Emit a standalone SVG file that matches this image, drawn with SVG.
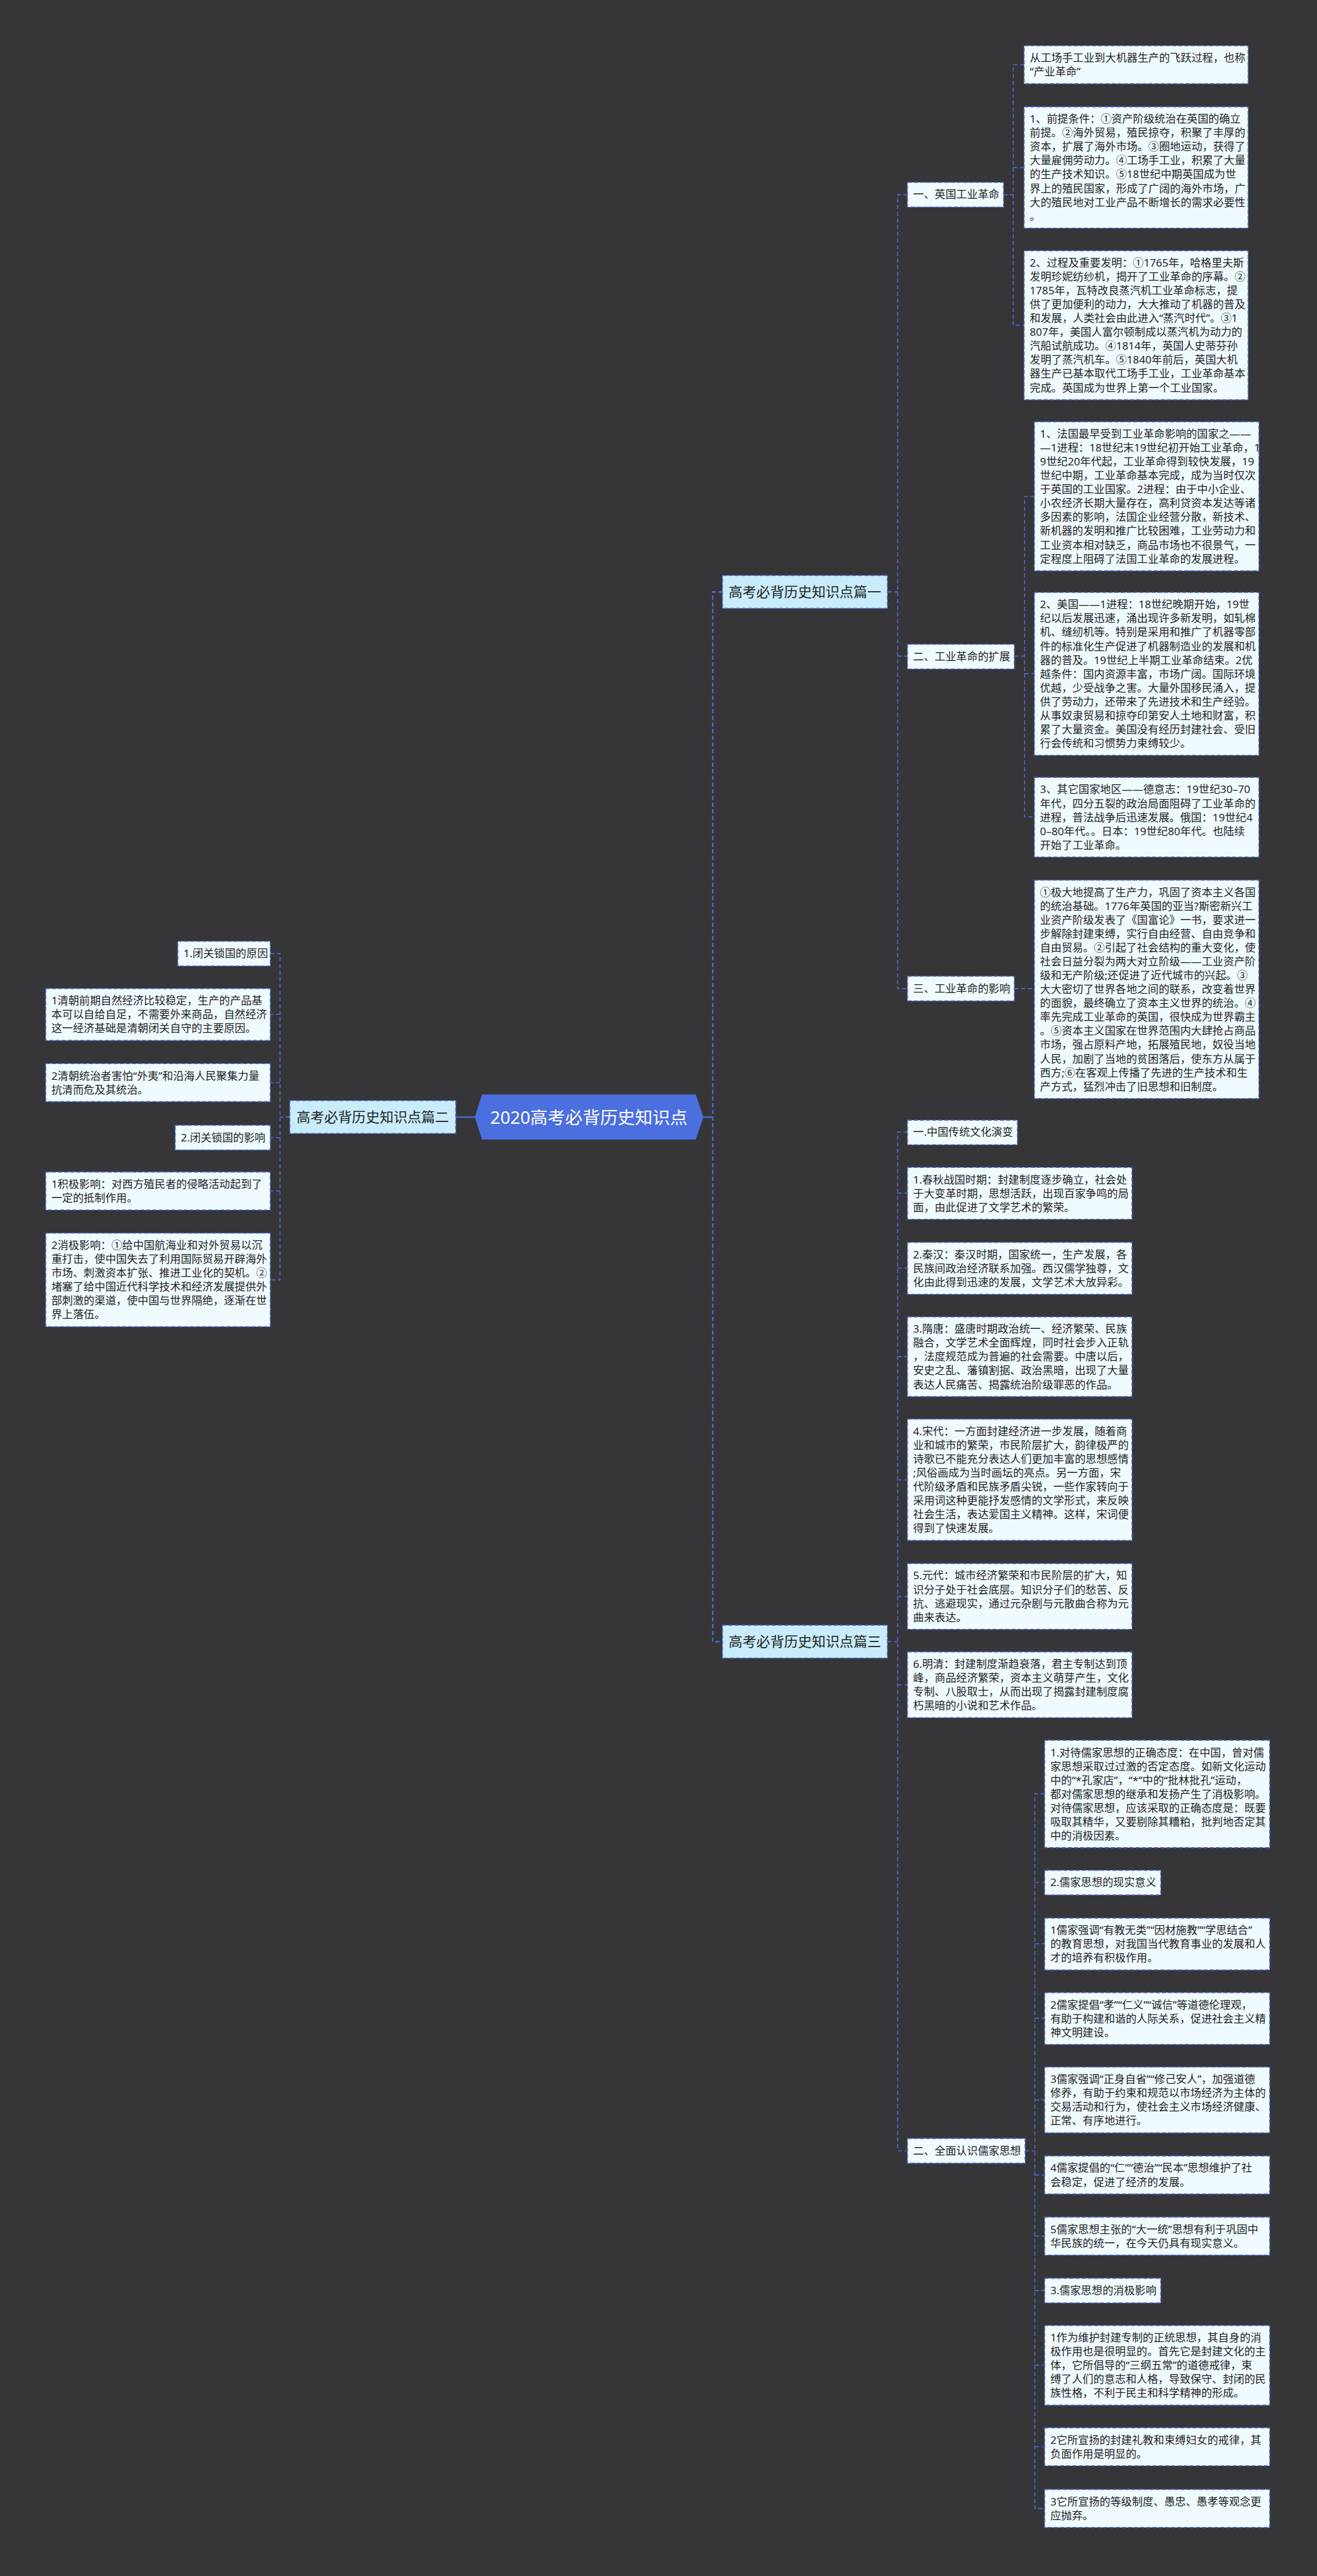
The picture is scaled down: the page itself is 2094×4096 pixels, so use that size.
<svg xmlns="http://www.w3.org/2000/svg" width="2094" height="4096" viewBox="0 0 2094 4096">
<style>
.t{font-family:"Noto Sans","Noto Sans CJK SC",sans-serif;font-size:21px;fill:#1f1f1f}
.b{fill:#f0fbff;stroke:#4a68c9;stroke-width:2;stroke-dasharray:8 4}
.h{fill:#c9ecfb;stroke:#4a68c9;stroke-width:2;stroke-dasharray:8 4}
.t1{font-family:"Noto Sans","Noto Sans CJK SC",sans-serif;font-size:27px;fill:#1f1f1f}
.tc{font-family:"Noto Sans","Noto Sans CJK SC",sans-serif;font-size:34px;fill:#ffffff;text-anchor:middle}
.c{fill:none;stroke:#4a6bd0;stroke-width:2;stroke-dasharray:8 5}
.c0{fill:none;stroke:#4a6bd0;stroke-width:3;stroke-dasharray:8 5}
.s{fill:none;stroke:#4a6bd0;stroke-width:3}
</style>
<rect x="0" y="0" width="2094" height="4096" fill="#363538"/>
<g transform="scale(0.817)">
<g id="connectors">
<path class="s" d="M924 2174H887"/>
<path class="s" d="M1369 2174H1387"/>
<path class="c0" d="M1406 1152H1387V3195H1406"/>
<path class="c" d="M1727 1152H1747"/>
<path class="c" d="M1766 379H1747V1924H1766M1747 1277H1766"/>
<path class="c" d="M1953 379H1972M1993 126H1972V633H1993M1972 326H1993"/>
<path class="c" d="M1974 1277H1994M2013 966H1994V1590H2013M1994 1311H2013"/>
<path class="c" d="M1974 1924H2013"/>
<path class="c" d="M1727 3195H1747"/>
<path class="c" d="M1766 2203H1747V4186H1766M1747 2322H1766M1747 2468H1766M1747 2640H1766M1747 2880H1766M1747 3107H1766M1747 3279H1766"/>
<path class="c" d="M1995 4186H2014M2033 3491H2014V4882H2033M2014 3664H2033M2014 3783H2033M2014 3928H2033M2014 4087H2033M2014 4233H2033M2014 4352H2033M2014 4458H2033M2014 4603H2033M2014 4762H2033"/>
<path class="c" d="M564 2174H545M526 1856H545V2491H526M545 1974H526M545 2107H526M545 2214H526M545 2318H526"/>
</g>

<g id="root">
<path d="M924 2174L938 2130H1354L1369 2174L1354 2218H938Z" fill="#4b6fdf"/>
<text class="tc" x="1146" y="2187">2020高考必背历史知识点</text>
</g>

<g id="p1"><rect class="h" x="1406" y="1120" width="321" height="64"/><text class="t1" x="1418" y="1162">高考必背历史知识点篇一</text></g>
<g id="p2"><rect class="h" x="564" y="2142" width="323" height="64"/><text class="t1" x="577" y="2184">高考必背历史知识点篇二</text></g>
<g id="p3"><rect class="h" x="1406" y="3163" width="321" height="64"/><text class="t1" x="1418" y="3205">高考必背历史知识点篇三</text></g>

<g id="l1"><rect class="b" x="1766" y="355" width="187" height="48"/><text class="t" x="1777" y="386">一、英国工业革命</text></g>
<g id="l2"><rect class="b" x="1766" y="1254" width="208" height="48"/><text class="t" x="1777" y="1285">二、工业革命的扩展</text></g>
<g id="l3"><rect class="b" x="1766" y="1900" width="208" height="48"/><text class="t" x="1777" y="1931">三、工业革命的影响</text></g>
<g id="l4"><rect class="b" x="1766" y="2180" width="214" height="48"/><text class="t" x="1777" y="2211">一.中国传统文化演变</text></g>
<g id="l5"><rect class="b" x="1766" y="4162" width="229" height="48"/><text class="t" x="1777" y="4193">二、全面认识儒家思想</text></g>

<g id="a1"><rect class="b" x="1993" y="89" width="436" height="74"/><text class="t"><tspan x="2004" y="120">从工场手工业到大机器生产的飞跃过程，也称</tspan><tspan x="2004" y="147">“产业革命”</tspan></text></g>
<g id="a2"><rect class="b" x="1993" y="208" width="436" height="236"/><text class="t"><tspan x="2004" y="239">1、前提条件：①资产阶级统治在英国的确立</tspan><tspan x="2004" y="266">前提。②海外贸易，殖民掠夺，积聚了丰厚的</tspan><tspan x="2004" y="293">资本，扩展了海外市场。③圈地运动，获得了</tspan><tspan x="2004" y="320">大量雇佣劳动力。④工场手工业，积累了大量</tspan><tspan x="2004" y="347">的生产技术知识。⑤18世纪中期英国成为世</tspan><tspan x="2004" y="374">界上的殖民国家，形成了广阔的海外市场，广</tspan><tspan x="2004" y="401">大的殖民地对工业产品不断增长的需求必要性</tspan><tspan x="2004" y="428">。</tspan></text></g>
<g id="a3"><rect class="b" x="1993" y="488" width="436" height="290"/><text class="t"><tspan x="2004" y="519">2、过程及重要发明：①1765年，哈格里夫斯</tspan><tspan x="2004" y="546">发明珍妮纺纱机，揭开了工业革命的序幕。②</tspan><tspan x="2004" y="573">1785年，瓦特改良蒸汽机工业革命标志，提</tspan><tspan x="2004" y="600">供了更加便利的动力，大大推动了机器的普及</tspan><tspan x="2004" y="627">和发展，人类社会由此进入“蒸汽时代”。③1</tspan><tspan x="2004" y="654">807年，美国人富尔顿制成以蒸汽机为动力的</tspan><tspan x="2004" y="681">汽船试航成功。④1814年，英国人史蒂芬孙</tspan><tspan x="2004" y="708">发明了蒸汽机车。⑤1840年前后，英国大机</tspan><tspan x="2004" y="735">器生产已基本取代工场手工业，工业革命基本</tspan><tspan x="2004" y="762">完成。英国成为世界上第一个工业国家。</tspan></text></g>

<g id="b1"><rect class="b" x="2013" y="821" width="437" height="290"/><text class="t"><tspan x="2024" y="852">1、法国最早受到工业革命影响的国家之——</tspan><tspan x="2024" y="879">—1进程：18世纪末19世纪初开始工业革命，1</tspan><tspan x="2024" y="906">9世纪20年代起，工业革命得到较快发展，19</tspan><tspan x="2024" y="933">世纪中期，工业革命基本完成，成为当时仅次</tspan><tspan x="2024" y="960">于英国的工业国家。2进程：由于中小企业、</tspan><tspan x="2024" y="987">小农经济长期大量存在，高利贷资本发达等诸</tspan><tspan x="2024" y="1014">多因素的影响，法国企业经营分散，新技术、</tspan><tspan x="2024" y="1041">新机器的发明和推广比较困难，工业劳动力和</tspan><tspan x="2024" y="1068">工业资本相对缺乏，商品市场也不很景气，一</tspan><tspan x="2024" y="1095">定程度上阻碍了法国工业革命的发展进程。</tspan></text></g>
<g id="b2"><rect class="b" x="2013" y="1153" width="437" height="317"/><text class="t"><tspan x="2024" y="1184">2、美国——1进程：18世纪晚期开始，19世</tspan><tspan x="2024" y="1211">纪以后发展迅速，涌出现许多新发明，如轧棉</tspan><tspan x="2024" y="1238">机、缝纫机等。特别是采用和推广了机器零部</tspan><tspan x="2024" y="1265">件的标准化生产促进了机器制造业的发展和机</tspan><tspan x="2024" y="1292">器的普及。19世纪上半期工业革命结束。2优</tspan><tspan x="2024" y="1319">越条件：国内资源丰富，市场广阔。国际环境</tspan><tspan x="2024" y="1346">优越，少受战争之害。大量外国移民涌入，提</tspan><tspan x="2024" y="1373">供了劳动力，还带来了先进技术和生产经验。</tspan><tspan x="2024" y="1400">从事奴隶贸易和掠夺印第安人土地和财富，积</tspan><tspan x="2024" y="1427">累了大量资金。美国没有经历封建社会、受旧</tspan><tspan x="2024" y="1454">行会传统和习惯势力束缚较少。</tspan></text></g>
<g id="b3"><rect class="b" x="2013" y="1513" width="437" height="155"/><text class="t"><tspan x="2024" y="1544">3、其它国家地区——德意志：19世纪30–70</tspan><tspan x="2024" y="1571">年代，四分五裂的政治局面阻碍了工业革命的</tspan><tspan x="2024" y="1598">进程，普法战争后迅速发展。俄国：19世纪4</tspan><tspan x="2024" y="1625">0–80年代。。日本：19世纪80年代。也陆续</tspan><tspan x="2024" y="1652">开始了工业革命。</tspan></text></g>

<g id="c1"><rect class="b" x="2013" y="1713" width="437" height="425"/><text class="t"><tspan x="2024" y="1744">①极大地提高了生产力，巩固了资本主义各国</tspan><tspan x="2024" y="1771">的统治基础。1776年英国的亚当?斯密新兴工</tspan><tspan x="2024" y="1798">业资产阶级发表了《国富论》一书，要求进一</tspan><tspan x="2024" y="1825">步解除封建束缚，实行自由经营、自由竞争和</tspan><tspan x="2024" y="1852">自由贸易。②引起了社会结构的重大变化，使</tspan><tspan x="2024" y="1879">社会日益分裂为两大对立阶级——工业资产阶</tspan><tspan x="2024" y="1906">级和无产阶级;还促进了近代城市的兴起。③</tspan><tspan x="2024" y="1933">大大密切了世界各地之间的联系，改变着世界</tspan><tspan x="2024" y="1960">的面貌，最终确立了资本主义世界的统治。④</tspan><tspan x="2024" y="1987">率先完成工业革命的英国，很快成为世界霸主</tspan><tspan x="2024" y="2014">。⑤资本主义国家在世界范围内大肆抢占商品</tspan><tspan x="2024" y="2041">市场，强占原料产地，拓展殖民地，奴役当地</tspan><tspan x="2024" y="2068">人民，加剧了当地的贫困落后，使东方从属于</tspan><tspan x="2024" y="2095">西方;⑥在客观上传播了先进的生产技术和生</tspan><tspan x="2024" y="2122">产方式，猛烈冲击了旧思想和旧制度。</tspan></text></g>

<g id="d1"><rect class="b" x="1766" y="2272" width="437" height="101"/><text class="t"><tspan x="1777" y="2303">1.春秋战国时期：封建制度逐步确立，社会处</tspan><tspan x="1777" y="2330">于大变革时期，思想活跃，出现百家争鸣的局</tspan><tspan x="1777" y="2357">面，由此促进了文学艺术的繁荣。</tspan></text></g>
<g id="d2"><rect class="b" x="1766" y="2418" width="437" height="101"/><text class="t"><tspan x="1777" y="2449">2.秦汉：秦汉时期，国家统一，生产发展，各</tspan><tspan x="1777" y="2476">民族间政治经济联系加强。西汉儒学独尊，文</tspan><tspan x="1777" y="2503">化由此得到迅速的发展，文学艺术大放异彩。</tspan></text></g>
<g id="d3"><rect class="b" x="1766" y="2563" width="437" height="155"/><text class="t"><tspan x="1777" y="2594">3.隋唐：盛唐时期政治统一、经济繁荣、民族</tspan><tspan x="1777" y="2621">融合，文学艺术全面辉煌，同时社会步入正轨</tspan><tspan x="1777" y="2648">，法度规范成为普遍的社会需要。中唐以后，</tspan><tspan x="1777" y="2675">安史之乱、藩镇割据、政治黑暗，出现了大量</tspan><tspan x="1777" y="2702">表达人民痛苦、揭露统治阶级罪恶的作品。</tspan></text></g>
<g id="d4"><rect class="b" x="1766" y="2762" width="437" height="236"/><text class="t"><tspan x="1777" y="2793">4.宋代：一方面封建经济进一步发展，随着商</tspan><tspan x="1777" y="2820">业和城市的繁荣，市民阶层扩大，韵律极严的</tspan><tspan x="1777" y="2847">诗歌已不能充分表达人们更加丰富的思想感情</tspan><tspan x="1777" y="2874">;风俗画成为当时画坛的亮点。另一方面，宋</tspan><tspan x="1777" y="2901">代阶级矛盾和民族矛盾尖锐，一些作家转向于</tspan><tspan x="1777" y="2928">采用词这种更能抒发感情的文学形式，来反映</tspan><tspan x="1777" y="2955">社会生活，表达爱国主义精神。这样，宋词便</tspan><tspan x="1777" y="2982">得到了快速发展。</tspan></text></g>
<g id="d5"><rect class="b" x="1766" y="3043" width="437" height="128"/><text class="t"><tspan x="1777" y="3074">5.元代：城市经济繁荣和市民阶层的扩大，知</tspan><tspan x="1777" y="3101">识分子处于社会底层。知识分子们的愁苦、反</tspan><tspan x="1777" y="3128">抗、逃避现实，通过元杂剧与元散曲合称为元</tspan><tspan x="1777" y="3155">曲来表达。</tspan></text></g>
<g id="d6"><rect class="b" x="1766" y="3215" width="437" height="128"/><text class="t"><tspan x="1777" y="3246">6.明清：封建制度渐趋衰落，君主专制达到顶</tspan><tspan x="1777" y="3273">峰，商品经济繁荣，资本主义萌芽产生，文化</tspan><tspan x="1777" y="3300">专制、八股取士，从而出现了揭露封建制度腐</tspan><tspan x="1777" y="3327">朽黑暗的小说和艺术作品。</tspan></text></g>

<g id="e1"><rect class="b" x="2033" y="3387" width="438" height="209"/><text class="t"><tspan x="2044" y="3418">1.对待儒家思想的正确态度：在中国，曾对儒</tspan><tspan x="2044" y="3445">家思想采取过过激的否定态度。如新文化运动</tspan><tspan x="2044" y="3472">中的“*孔家店”，“*”中的“批林批孔”运动，</tspan><tspan x="2044" y="3499">都对儒家思想的继承和发扬产生了消极影响。</tspan><tspan x="2044" y="3526">对待儒家思想，应该采取的正确态度是：既要</tspan><tspan x="2044" y="3553">吸取其精华，又要剔除其糟粕，批判地否定其</tspan><tspan x="2044" y="3580">中的消极因素。</tspan></text></g>
<g id="e2"><rect class="b" x="2033" y="3640" width="226" height="48"/><text class="t" x="2044" y="3671">2.儒家思想的现实意义</text></g>
<g id="e3"><rect class="b" x="2033" y="3733" width="438" height="101"/><text class="t"><tspan x="2044" y="3764">1儒家强调“有教无类”“因材施教”“学思结合”</tspan><tspan x="2044" y="3791">的教育思想，对我国当代教育事业的发展和人</tspan><tspan x="2044" y="3818">才的培养有积极作用。</tspan></text></g>
<g id="e4"><rect class="b" x="2033" y="3878" width="438" height="101"/><text class="t"><tspan x="2044" y="3909">2儒家提倡“孝”“仁义”“诚信”等道德伦理观，</tspan><tspan x="2044" y="3936">有助于构建和谐的人际关系，促进社会主义精</tspan><tspan x="2044" y="3963">神文明建设。</tspan></text></g>
<g id="e5"><rect class="b" x="2033" y="4023" width="438" height="128"/><text class="t"><tspan x="2044" y="4054">3儒家强调“正身自省”“修己安人”，加强道德</tspan><tspan x="2044" y="4081">修养，有助于约束和规范以市场经济为主体的</tspan><tspan x="2044" y="4108">交易活动和行为，使社会主义市场经济健康、</tspan><tspan x="2044" y="4135">正常、有序地进行。</tspan></text></g>
<g id="e6"><rect class="b" x="2033" y="4196" width="438" height="74"/><text class="t"><tspan x="2044" y="4227">4儒家提倡的“仁”“德治”“民本”思想维护了社</tspan><tspan x="2044" y="4254">会稳定，促进了经济的发展。</tspan></text></g>
<g id="e7"><rect class="b" x="2033" y="4315" width="438" height="74"/><text class="t"><tspan x="2044" y="4346">5儒家思想主张的“大一统”思想有利于巩固中</tspan><tspan x="2044" y="4373">华民族的统一，在今天仍具有现实意义。</tspan></text></g>
<g id="e8"><rect class="b" x="2033" y="4434" width="226" height="48"/><text class="t" x="2044" y="4465">3.儒家思想的消极影响</text></g>
<g id="e9"><rect class="b" x="2033" y="4526" width="438" height="155"/><text class="t"><tspan x="2044" y="4557">1作为维护封建专制的正统思想，其自身的消</tspan><tspan x="2044" y="4584">极作用也是很明显的。首先它是封建文化的主</tspan><tspan x="2044" y="4611">体，它所倡导的“三纲五常”的道德戒律，束</tspan><tspan x="2044" y="4638">缚了人们的意志和人格，导致保守、封闭的民</tspan><tspan x="2044" y="4665">族性格，不利于民主和科学精神的形成。</tspan></text></g>
<g id="e10"><rect class="b" x="2033" y="4725" width="438" height="74"/><text class="t"><tspan x="2044" y="4756">2它所宣扬的封建礼教和束缚妇女的戒律，其</tspan><tspan x="2044" y="4783">负面作用是明显的。</tspan></text></g>
<g id="e11"><rect class="b" x="2033" y="4845" width="438" height="74"/><text class="t"><tspan x="2044" y="4876">3它所宣扬的等级制度、愚忠、愚孝等观念更</tspan><tspan x="2044" y="4903">应抛弃。</tspan></text></g>

<g id="f1"><rect class="b" x="346" y="1832" width="180" height="48"/><text class="t" x="357" y="1863">1.闭关锁国的原因</text></g>
<g id="f2"><rect class="b" x="89" y="1924" width="437" height="101"/><text class="t"><tspan x="100" y="1955">1清朝前期自然经济比较稳定，生产的产品基</tspan><tspan x="100" y="1982">本可以自给自足，不需要外来商品，自然经济</tspan><tspan x="100" y="2009">这一经济基础是清朝闭关自守的主要原因。</tspan></text></g>
<g id="f3"><rect class="b" x="89" y="2070" width="437" height="74"/><text class="t"><tspan x="100" y="2101">2清朝统治者害怕“外夷”和沿海人民聚集力量</tspan><tspan x="100" y="2128">抗清而危及其统治。</tspan></text></g>
<g id="f4"><rect class="b" x="341" y="2190" width="185" height="48"/><text class="t" x="352" y="2221">2.闭关锁国的影响</text></g>
<g id="f5"><rect class="b" x="89" y="2281" width="437" height="74"/><text class="t"><tspan x="100" y="2312">1积极影响：对西方殖民者的侵略活动起到了</tspan><tspan x="100" y="2339">一定的抵制作用。</tspan></text></g>
<g id="f6"><rect class="b" x="89" y="2400" width="437" height="182"/><text class="t"><tspan x="100" y="2431">2消极影响：①给中国航海业和对外贸易以沉</tspan><tspan x="100" y="2458">重打击，使中国失去了利用国际贸易开辟海外</tspan><tspan x="100" y="2485">市场、刺激资本扩张、推进工业化的契机。②</tspan><tspan x="100" y="2512">堵塞了给中国近代科学技术和经济发展提供外</tspan><tspan x="100" y="2539">部刺激的渠道，使中国与世界隔绝，逐渐在世</tspan><tspan x="100" y="2566">界上落伍。</tspan></text></g>
</g>
</svg>
